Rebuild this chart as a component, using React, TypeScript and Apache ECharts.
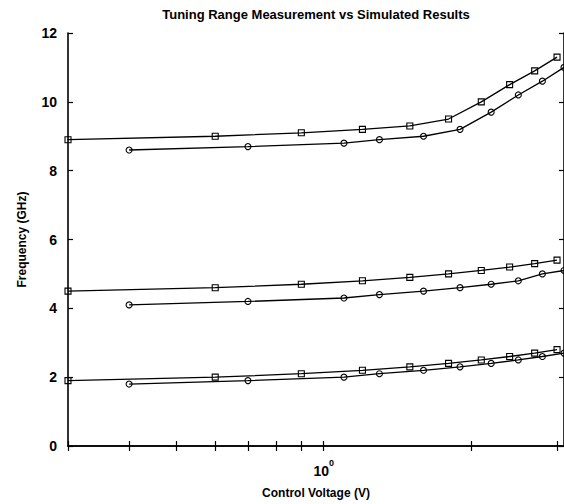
import React, { useEffect, useRef } from "react";
import * as echarts from "echarts";

// Control voltages (V) at which each trace was sampled
const squareVoltages = [0.3, 0.6, 0.9, 1.2, 1.5, 1.8, 2.1, 2.4, 2.7, 3.0];
const circleVoltages = [0.4, 0.7, 1.1, 1.3, 1.6, 1.9, 2.2, 2.5, 2.8, 3.1];

// Frequencies (GHz) for the three oscillator bands
const simHigh = [8.9, 9.0, 9.1, 9.2, 9.3, 9.5, 10.0, 10.5, 10.9, 11.3];
const measHigh = [8.6, 8.7, 8.8, 8.9, 9.0, 9.2, 9.7, 10.2, 10.6, 11.0];
const simMid = [4.5, 4.6, 4.7, 4.8, 4.9, 5.0, 5.1, 5.2, 5.3, 5.4];
const measMid = [4.1, 4.2, 4.3, 4.4, 4.5, 4.6, 4.7, 4.8, 5.0, 5.1];
const simLow = [1.9, 2.0, 2.1, 2.2, 2.3, 2.4, 2.5, 2.6, 2.7, 2.8];
const measLow = [1.8, 1.9, 2.0, 2.1, 2.2, 2.3, 2.4, 2.5, 2.6, 2.7];

// Log-axis tick positions and labelled decades
const xTickValues = [0.3, 0.4, 0.5, 0.6, 0.7, 0.8, 0.9, 1, 2, 3];
const xLabelValues = [1];
const xMin = 0.3;
const xMax = 3.1;

const FONT = "'Liberation Sans', Arial, Helvetica, sans-serif";

const pairs = (xs: number[], ys: number[]) => xs.map((x, i) => [x, ys[i]]);

function lineSeries(name: string, xs: number[], ys: number[], symbol: string) {
  return {
    name,
    type: "line",
    data: pairs(xs, ys),
    symbol,
    symbolSize: 6,
    clip: false,
    lineStyle: { color: "#000", width: 1.3 },
    itemStyle: { color: "transparent", borderColor: "#000", borderWidth: 1.1 },
    emphasis: { disabled: true },
  };
}

export default function App() {
  const ref = useRef<HTMLDivElement>(null);

  useEffect(() => {
    document.body.style.margin = "0";
    const chart = echarts.init(ref.current!, null, { renderer: "svg" });

    const axisLine = { show: true, lineStyle: { color: "#000", width: 1.6 } };
    const tick = {
      show: true,
      inside: true,
      length: 5,
      lineStyle: { color: "#000", width: 1.2 },
    };

    chart.setOption({
      animation: false,
      backgroundColor: "#fff",
      grid: { left: 68, top: 33, right: -1, bottom: 58, containLabel: false },
      graphic: [
        {
          type: "text",
          x: 316,
          y: 14,
          style: {
            text: "Tuning Range Measurement vs Simulated Results",
            fontFamily: FONT,
            fontSize: 13,
            fontWeight: "bold",
            fill: "#000",
            align: "center",
            verticalAlign: "middle",
          },
        },
      ],
      xAxis: [
        {
          type: "log",
          logBase: 10,
          min: xMin,
          max: xMax,
          position: "bottom",
          axisLine,
          axisTick: { ...tick, customValues: xTickValues },
          splitLine: { show: false },
          axisLabel: {
            customValues: xLabelValues,
            margin: 12,
            formatter: (v: number) => `{b|10}{s|${Math.round(Math.log10(v))}}`,
            rich: {
              b: {
                fontFamily: FONT,
                fontSize: 14,
                fontWeight: "bold",
                color: "#000",
                lineHeight: 20,
                verticalAlign: "bottom",
              },
              s: {
                fontFamily: FONT,
                fontSize: 9,
                fontWeight: "bold",
                color: "#000",
                lineHeight: 8,
                verticalAlign: "top",
              },
            },
          },
          name: "Control Voltage (V)",
          nameLocation: "middle",
          nameGap: 41,
          nameTextStyle: {
            fontFamily: FONT,
            fontSize: 12,
            fontWeight: "bold",
            color: "#000",
          },
        },
        {
          type: "log",
          logBase: 10,
          min: xMin,
          max: xMax,
          position: "top",
          axisLine,
          axisTick: { ...tick, customValues: xTickValues },
          axisLabel: { show: false },
          splitLine: { show: false },
        },
      ],
      yAxis: [
        {
          type: "value",
          min: 0,
          max: 12,
          interval: 2,
          position: "left",
          axisLine,
          axisTick: tick,
          splitLine: { show: false },
          axisLabel: {
            margin: 11,
            fontFamily: FONT,
            fontSize: 14,
            fontWeight: "bold",
            color: "#000",
          },
          name: "Frequency (GHz)",
          nameLocation: "middle",
          nameGap: 40,
          nameTextStyle: {
            fontFamily: FONT,
            fontSize: 12,
            fontWeight: "bold",
            color: "#000",
          },
        },
        {
          type: "value",
          min: 0,
          max: 12,
          interval: 2,
          position: "right",
          axisLine,
          axisTick: tick,
          axisLabel: { show: false },
          splitLine: { show: false },
        },
      ],
      series: [
        lineSeries("Simulated high band", squareVoltages, simHigh, "rect"),
        lineSeries("Measured high band", circleVoltages, measHigh, "circle"),
        lineSeries("Simulated mid band", squareVoltages, simMid, "rect"),
        lineSeries("Measured mid band", circleVoltages, measMid, "circle"),
        lineSeries("Simulated low band", squareVoltages, simLow, "rect"),
        lineSeries("Measured low band", circleVoltages, measLow, "circle"),
      ],
    });

    return () => chart.dispose();
  }, []);

  return (
    <div
      ref={ref}
      style={{ position: "absolute", left: 0, top: 0, width: 564, height: 504 }}
    />
  );
}
